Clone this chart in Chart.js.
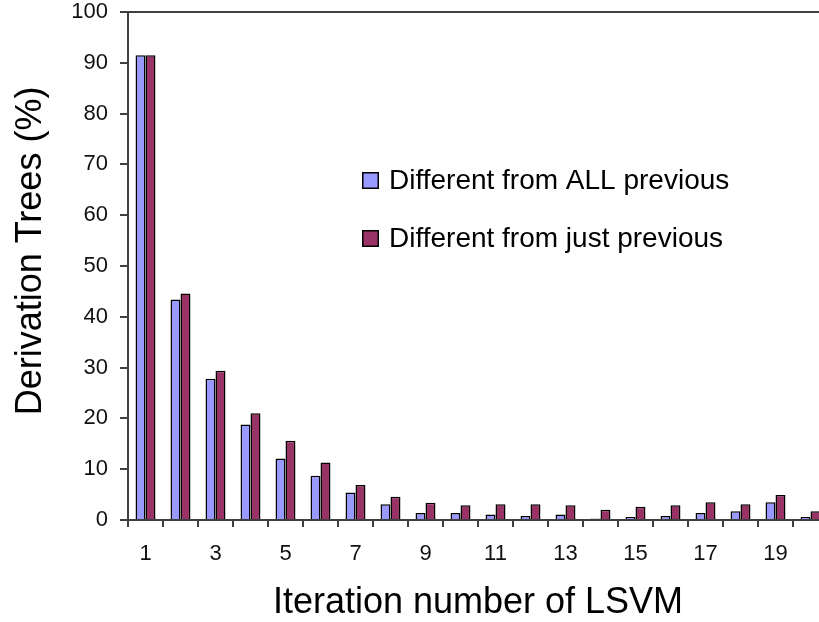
<!DOCTYPE html>
<html>
<head>
<meta charset="utf-8">
<script src="https://cdn.jsdelivr.net/npm/chart.js@4/dist/chart.umd.min.js"></script>
<style>
  html, body { margin: 0; padding: 0; background: #fff; overflow: hidden; }
  #wrap { width: 830px; height: 622px; }
</style>
</head>
<body>
<div id="wrap"><canvas id="chart" width="830" height="622"></canvas></div>
<script>
// 数据
var iterations = ['1', '2', '3', '4', '5', '6', '7', '8', '9', '10',
                  '11', '12', '13', '14', '15', '16', '17', '18', '19', '20'];
var shownTicks = ['1', '3', '5', '7', '9', '11', '13', '15', '17', '19'];
var diffAllPrevious = [91.5, 43.4, 27.8, 18.8, 12.1, 8.7, 5.4, 3.1, 1.4, 1.4,
                       1.1, 0.8, 1.1, 0.3, 0.6, 0.8, 1.4, 1.7, 3.5, 0.6];
var diffJustPrevious = [91.5, 44.6, 29.4, 21.0, 15.6, 11.3, 6.9, 4.6, 3.4, 2.9,
                        3.1, 3.1, 2.9, 2.0, 2.6, 2.9, 3.5, 3.1, 4.9, 1.7];
var seriesNames = ['Different from ALL previous', 'Different from just previous'];
var yTicks = [0, 10, 20, 30, 40, 50, 60, 70, 80, 90, 100];

var FONT = '"Liberation Sans", Arial, sans-serif';
var AXIS = '#404040';

//图内图例
var boxLegend = {
    id: 'boxLegend',
    afterDraw: function (chart, args, opts) {
        var ctx = chart.ctx;
        ctx.save();
        ctx.font = opts.fontSize + 'px ' + FONT;
        ctx.textBaseline = 'alphabetic';
        ctx.textAlign = 'left';
        chart.data.datasets.forEach(function (ds, i) {
            var y = opts.y + i * opts.gap;
            ctx.fillStyle = ds.backgroundColor;
            ctx.fillRect(opts.x, y - opts.box, opts.box, opts.box);
            ctx.strokeStyle = '#000';
            ctx.lineWidth = 1.5;
            ctx.strokeRect(opts.x + 0.75, y - opts.box + 0.75, opts.box - 1.5, opts.box - 1.5);
            ctx.fillStyle = '#000';
            ctx.fillText(ds.label, opts.x + 27, y);
        });
        ctx.restore();
    }
};

var ctx = document.getElementById('chart').getContext('2d');
var chart = new Chart(ctx, {
    type: 'bar',
    data: {
        labels: iterations,
        datasets: [{
            label: seriesNames[0],
            data: diffAllPrevious,
            backgroundColor: '#9999FF',
            borderColor: '#000',
            borderWidth: 1.5
        }, {
            label: seriesNames[1],
            data: diffJustPrevious,
            backgroundColor: '#993366',
            borderColor: '#000',
            borderWidth: 1.5
        }]
    },
    options: {
        responsive: false,
        animation: false,
        layout: { padding: { top: 12, right: 2, left: 0, bottom: 0 } },
        datasets: { bar: { categoryPercentage: 0.57, barPercentage: 1.0 } },
        plugins: {
            legend: { display: false },
            tooltip: { enabled: false },
            boxLegend: { x: 362, y: 189, gap: 58, box: 17, fontSize: 28 }
        },
        scales: {
            x: {
                offset: true,
                grid: {
                    offset: true,
                    drawOnChartArea: false,
                    tickLength: 7,
                    tickColor: AXIS,
                    lineWidth: 2
                },
                border: { color: AXIS, width: 2 },
                ticks: {
                    autoSkip: false,
                    maxRotation: 0,
                    padding: 16,
                    color: '#111',
                    font: { family: FONT, size: 22, lineHeight: 1 },
                    callback: function (v, i) {
                        var lab = iterations[i];
                        return shownTicks.indexOf(lab) >= 0 ? lab : '';
                    }
                },
                title: {
                    display: true,
                    text: 'Iteration number of LSVM',
                    color: '#000',
                    padding: { top: 0, bottom: 1 },
                    font: { family: FONT, size: 36, lineHeight: 1 }
                },
                afterFit: function (s) { s.height = 102; s.paddingLeft = 0; s.paddingRight = 0; }
            },
            y: {
                min: 0,
                max: 100,
                afterBuildTicks: function (s) {
                    s.ticks = yTicks.map(function (v) { return { value: v }; });
                },
                grid: {
                    color: function (c) { return c.tick && c.tick.value === 100 ? AXIS : 'rgba(0,0,0,0)'; },
                    tickColor: AXIS,
                    tickLength: 8,
                    lineWidth: 2
                },
                border: { color: AXIS, width: 2 },
                ticks: {
                    padding: 12,
                    color: '#111',
                    font: { family: FONT, size: 22, lineHeight: 1 }
                },
                title: {
                    display: true,
                    text: '   Derivation Trees (%)',
                    color: '#000',
                    padding: { top: 13, bottom: 0 },
                    font: { family: FONT, size: 36, lineHeight: 1 }
                },
                afterFit: function (s) { s.width = 128; s.paddingTop = 0; s.paddingBottom = 0; }
            }
        }
    },
    plugins: [boxLegend]
});
</script>
</body>
</html>
